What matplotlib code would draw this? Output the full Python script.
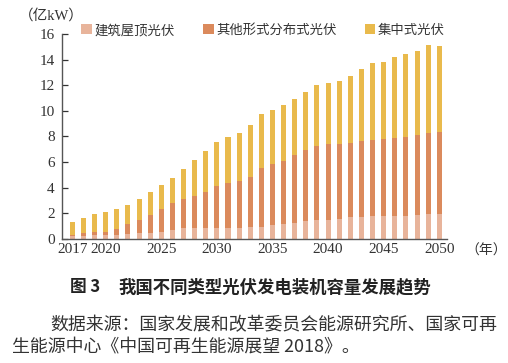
import numpy as np
import matplotlib.pyplot as plt

plt.rcParams['font.family'] = ['Liberation Serif', 'Noto Sans CJK SC']

# 装机容量（亿kW），2017-2050
years = list(range(2017, 2051))
rooftop = [0.25, 0.25, 0.28, 0.28, 0.30, 0.35, 0.42, 0.47, 0.55, 0.68,
           0.80, 0.80, 0.83, 0.85, 0.85, 0.86, 0.90, 0.95, 1.05, 1.15,
           1.25, 1.35, 1.45, 1.50, 1.55, 1.66, 1.72, 1.75, 1.77, 1.77,
           1.77, 1.85, 1.92, 1.95]
other_dist = [0.02, 0.20, 0.24, 0.27, 0.42, 0.77, 1.08, 1.35, 1.80, 2.08,
              2.32, 2.53, 2.84, 3.28, 3.50, 3.67, 3.95, 4.60, 4.81, 4.94,
              5.29, 5.58, 5.79, 5.87, 5.82, 5.84, 5.91, 5.96, 6.03, 6.10,
              6.20, 6.28, 6.38, 6.37]
central = [1.06, 1.15, 1.38, 1.50, 1.64, 1.52, 1.62, 1.80, 1.84, 1.98,
           2.32, 2.79, 3.18, 3.42, 3.60, 3.75, 4.03, 4.17, 4.19, 4.35,
           4.38, 4.52, 4.76, 4.82, 4.95, 5.20, 5.63, 6.04, 6.05, 6.32,
           6.48, 6.53, 6.83, 6.78]
series_names = ['建筑屋顶光伏', '其他形式分布式光伏', '集中式光伏']
xticks = [2017, 2020, 2025, 2030, 2035, 2040, 2045, 2050]
yticks = [0, 2, 4, 6, 8, 10, 12, 14, 16]

colors = ['#E8B49B', '#DB8A5C', '#E9BA4C']

fig = plt.figure(figsize=(5.08, 3.63), dpi=100)
ax = fig.add_axes([0.1215, 0.3424, 0.7579, 0.5639])

x = np.array(years)
bottom = np.zeros(len(years))
for vals, name, c in zip([rooftop, other_dist, central], series_names, colors):
    ax.bar(x, vals, width=0.45, bottom=bottom, color=c, label=name, linewidth=0)
    bottom += np.array(vals)

ax.set_xlim(2017 - 0.953, 2050 + 0.67)
ax.set_ylim(0, 16)
ax.set_yticks(yticks)
ax.set_xticks(xticks)
ax.tick_params(axis='y', direction='in', length=4, width=0.9, pad=5,
               labelsize=11, colors='#333333')
ax.tick_params(axis='x', length=0, pad=3, labelsize=11, colors='#333333')
for s in ['top', 'right']:
    ax.spines[s].set_visible(False)
for s in ['left', 'bottom']:
    ax.spines[s].set_color('#555555')
    ax.spines[s].set_linewidth(1.0)

fig.text(19 / 508, 1 - 16 / 363, '（亿kW）', fontsize=10.5, color='#333333',
         ha='left', va='center')
fig.text(465 / 508, 1 - 251 / 363, '（年）', fontsize=10, color='#333333',
         ha='left', va='center')

leg = fig.legend(loc='center', bbox_to_anchor=(0.518, 1 - 30 / 363), ncol=3,
                 frameon=False, handlelength=0.8, handleheight=0.8,
                 handletextpad=0.2, columnspacing=2.1,
                 prop={'family': ['Noto Sans CJK SC'], 'size': 9.6})
for t in leg.get_texts():
    t.set_color('#333333')

fig.text(70 / 508, 1 - 287 / 363, '图 3', fontsize=12, fontweight='bold',
         family=['Noto Sans CJK SC'], color='#222222', ha='left', va='center')
fig.text(118 / 508, 1 - 287 / 363, '我国不同类型光伏发电装机容量发展趋势', fontsize=12.5,
         fontweight='bold', family=['Noto Sans CJK SC'], color='#222222',
         ha='left', va='center')

fig.text(50 / 508, 1 - 325 / 363, '数据来源：国家发展和改革委员会能源研究所、国家可再',
         fontsize=12.9, family=['Noto Sans CJK SC'], color='#333333',
         ha='left', va='center')
fig.text(12 / 508, 1 - 347 / 363, '生能源中心《中国可再生能源展望 2018》。',
         fontsize=12.9, family=['Noto Sans CJK SC'], color='#333333',
         ha='left', va='center')

fig.savefig('out.png', dpi=100)
